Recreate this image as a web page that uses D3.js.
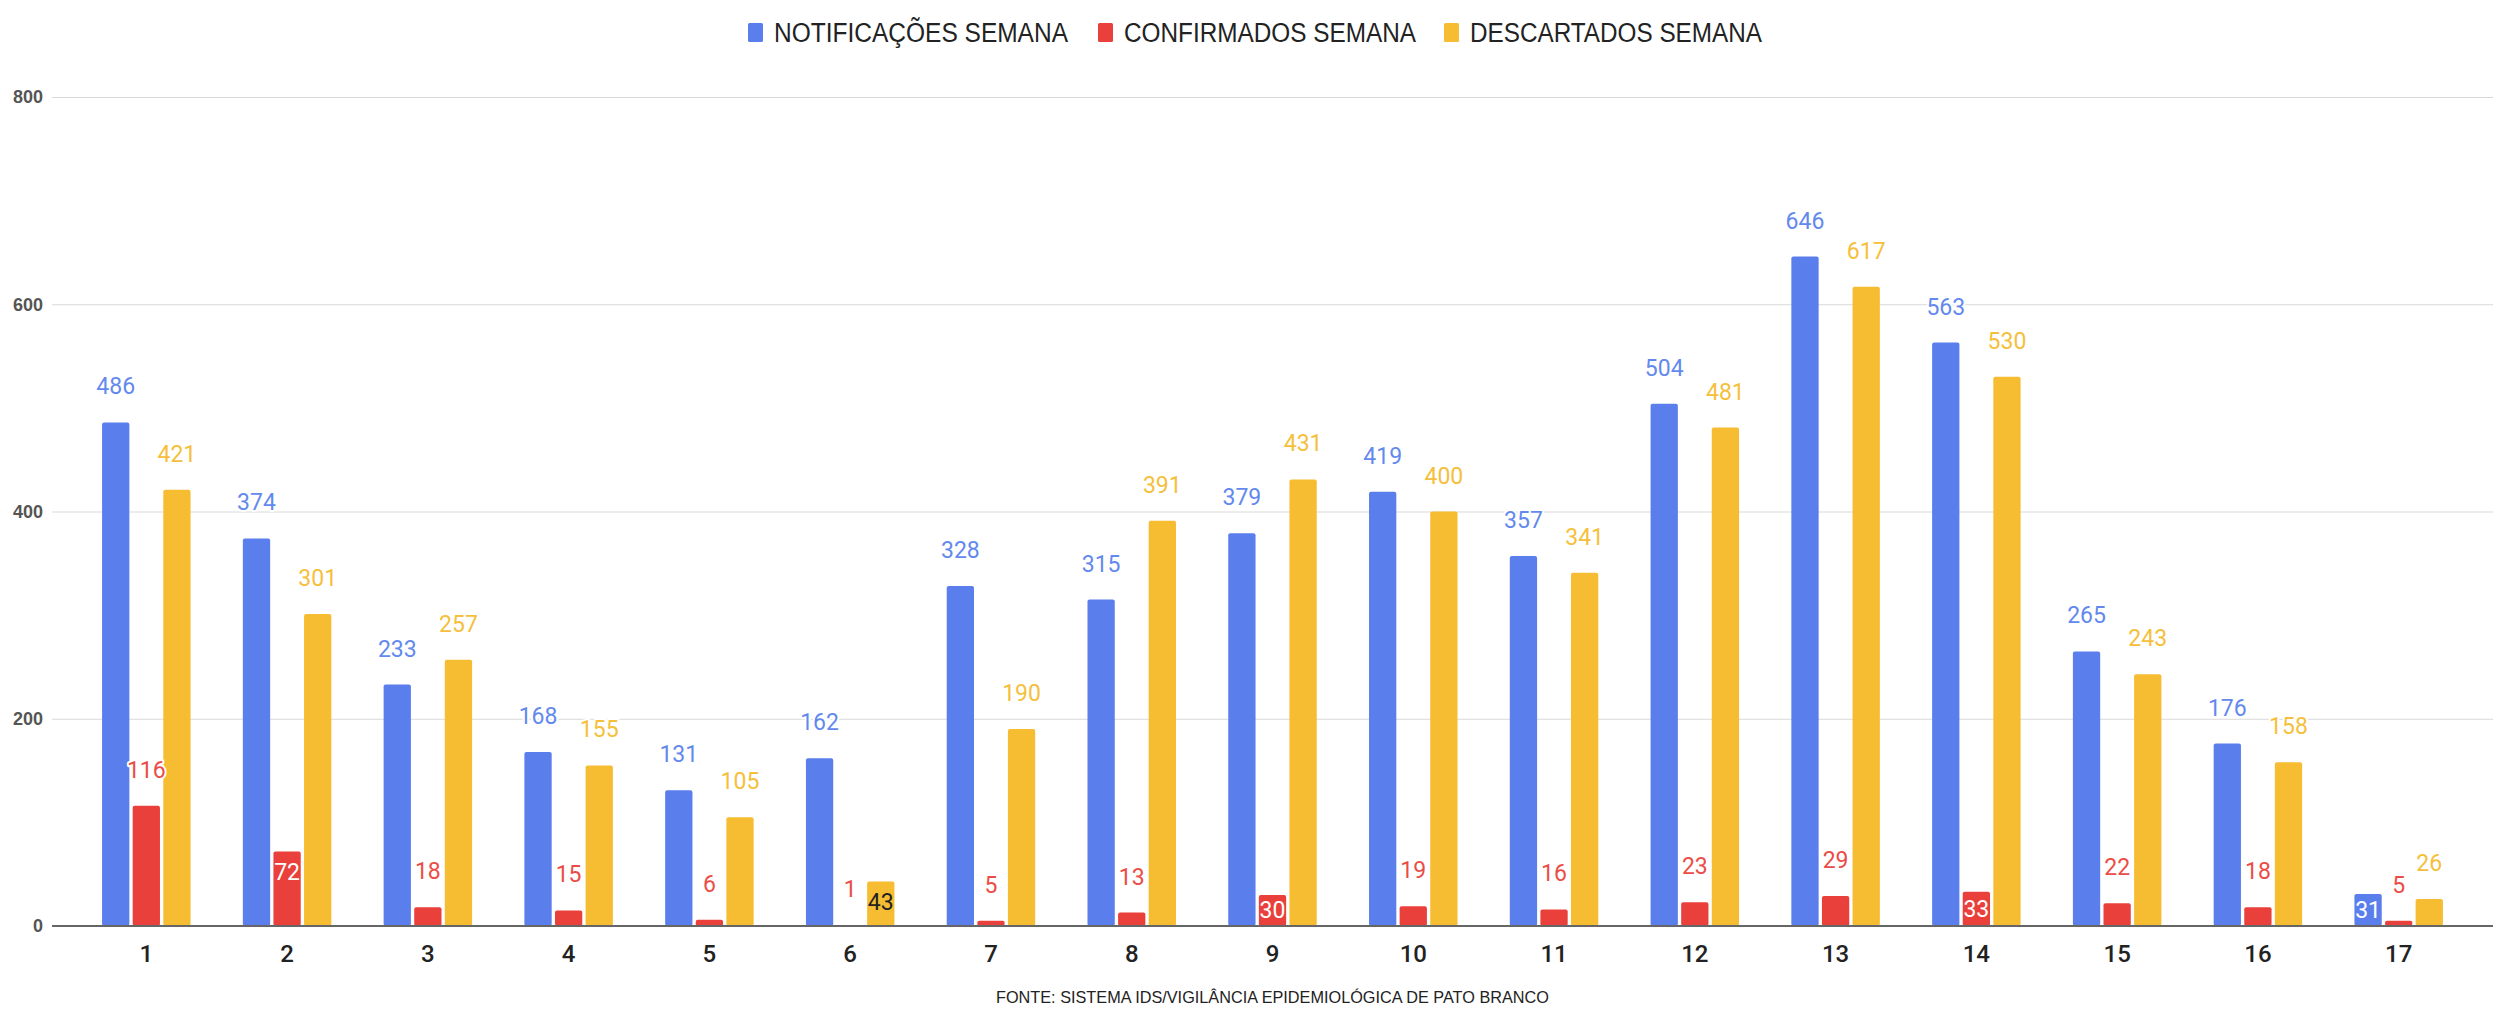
<!DOCTYPE html>
<html>
<head>
<meta charset="utf-8">
<script src="https://cdn.jsdelivr.net/npm/d3@7"></script>
<style>
  body { margin: 0; background: #fff; }
  #wrapper { width: 2507px; height: 1010px; }
</style>
</head>
<body>
<div id="wrapper"></div>
<script>
// semanas epidemiologicas
const semanas = ["1","2","3","4","5","6","7","8","9","10","11","12","13","14","15","16","17"];
const notificacoes = [486, 374, 233, 168, 131, 162, 328, 315, 379, 419, 357, 504, 646, 563, 265, 176, 31];
const confirmados = [116, 72, 18, 15, 6, 1, 5, 13, 30, 19, 16, 23, 29, 33, 22, 18, 5];
const descartados = [421, 301, 257, 155, 105, 43, 190, 391, 431, 400, 341, 481, 617, 530, 243, 158, 26];
const seriesNames = ["NOTIFICAÇÕES SEMANA", "CONFIRMADOS SEMANA", "DESCARTADOS SEMANA"];
const yTicks = [0, 200, 400, 600, 800];
// labels that sit inside their bar: [semana, serie]
const insideLabels = [["2", 1], ["6", 2], ["9", 1], ["14", 1], ["17", 0]];
const fonte = "FONTE: SISTEMA IDS/VIGILÂNCIA EPIDEMIOLÓGICA DE PATO BRANCO";

function buildPlot() {
    const colors = ["#5a7fec", "#ea403b", "#f6bd33"];
    const labelColors = ["#6389ee", "#ec4c47", "#f5bf3c"];
    const insideText = ["#ffffff", "#ffffff", "#222222"];

    const dimention = {
        width: 2507,
        height: 1010,
        left: 52,
        right: 2493,
        top: 97,
        bottom: 926
    };

    const table = semanas.map((s, i) => ({
        semana: s,
        values: [notificacoes[i], confirmados[i], descartados[i]]
    }));

    const svg = d3.select("#wrapper").append("svg")
        .attr("width", dimention.width)
        .attr("height", dimention.height)
        .style("font-family", "Roboto, sans-serif");

    const yScaler = d3.scaleLinear()
        .domain([0, 800])
        .range([dimention.bottom, dimention.top]);

    const xScaler = d3.scaleBand()
        .domain(semanas)
        .range([dimention.left, dimention.right])
        .paddingInner(0)
        .paddingOuter(0.17);

    const groupWidth = 88.5;
    const xInner = d3.scaleBand()
        .domain([0, 1, 2])
        .range([0, groupWidth])
        .paddingInner(0.108);
    const groupOffset = (xScaler.step() - groupWidth) / 2;

    // gridlines + y labels
    const yAxis = svg.append("g")
        .attr("transform", `translate(${dimention.left},0)`)
        .call(d3.axisLeft(yScaler)
            .tickValues(yTicks)
            .tickSize(-(dimention.right - dimention.left))
            .tickPadding(9));
    yAxis.select(".domain").remove();
    yAxis.selectAll("line").attr("stroke", "#d9d9d9").attr("stroke-width", 1.2);
    yAxis.selectAll("text")
        .attr("fill", "#555")
        .style("font-family", "'Liberation Sans', Arial, sans-serif")
        .style("font-weight", "bold")
        .style("font-size", "18px");

    // bars
    const groups = svg.append("g").selectAll("g")
        .data(table)
        .join("g")
        .attr("transform", d => `translate(${xScaler(d.semana) + groupOffset},0)`);

    groups.selectAll("rect")
        .data(d => d.values.map((v, k) => ({ v: v, k: k })))
        .join("rect")
        .attr("x", d => xInner(d.k))
        .attr("y", d => yScaler(d.v))
        .attr("width", xInner.bandwidth())
        .attr("height", d => yScaler(0) - yScaler(d.v))
        .attr("rx", 2)
        .attr("fill", d => colors[d.k]);

    // value labels
    const isInside = (s, k) => insideLabels.some(p => p[0] === s && p[1] === k);

    groups.selectAll("text")
        .data(d => d.values.map((v, k) => ({ v: v, k: k, s: d.semana })))
        .join("text")
        .attr("x", d => xInner(d.k) + xInner.bandwidth() / 2)
        .attr("y", d => {
            const top = yScaler(d.v);
            if (isInside(d.s, d.k)) {
                const c = Math.min(top + 21, (top + yScaler(0)) / 2);
                return c + 8;
            }
            return top - 28;
        })
        .attr("text-anchor", "middle")
        .style("font-size", "23px")
        .attr("fill", d => isInside(d.s, d.k) ? insideText[d.k] : labelColors[d.k])
        .attr("stroke", d => isInside(d.s, d.k) ? "none" : "#fff")
        .attr("stroke-width", 4)
        .attr("stroke-linejoin", "round")
        .attr("paint-order", "stroke")
        .text(d => d.v);

    // baseline
    svg.append("line")
        .attr("x1", dimention.left)
        .attr("x2", dimention.right)
        .attr("y1", yScaler(0))
        .attr("y2", yScaler(0))
        .attr("stroke", "#666")
        .attr("stroke-width", 2);

    // x labels
    const xAxis = svg.append("g")
        .attr("transform", `translate(0,${dimention.bottom})`)
        .call(d3.axisBottom(xScaler).tickSize(0).tickPadding(19));
    xAxis.select(".domain").remove();
    xAxis.selectAll("text")
        .attr("fill", "#222")
        .style("font-family", "Roboto, sans-serif")
        .style("font-weight", "500")
        .style("font-size", "24px");

    // legend
    const legendX = [748, 1098, 1444];
    const legendW = [294, 292, 292];
    const legend = svg.append("g").selectAll("g")
        .data(seriesNames)
        .join("g");
    legend.append("rect")
        .attr("x", (d, i) => legendX[i])
        .attr("y", 23)
        .attr("width", 15)
        .attr("height", 19)
        .attr("rx", 1.5)
        .attr("fill", (d, i) => colors[i]);
    legend.append("text")
        .attr("x", (d, i) => legendX[i] + 26)
        .attr("y", 42)
        .attr("textLength", (d, i) => legendW[i])
        .attr("lengthAdjust", "spacingAndGlyphs")
        .attr("fill", "#222")
        .style("font-family", "'Liberation Sans', Arial, sans-serif")
        .style("font-size", "27px")
        .text(d => d);

    // fonte
    svg.append("text")
        .attr("x", 996)
        .attr("y", 1003)
        .attr("textLength", 553)
        .attr("lengthAdjust", "spacingAndGlyphs")
        .attr("fill", "#222")
        .style("font-family", "'Liberation Sans', Arial, sans-serif")
        .style("font-size", "17px")
        .text(fonte);
}

buildPlot();
</script>
</body>
</html>
